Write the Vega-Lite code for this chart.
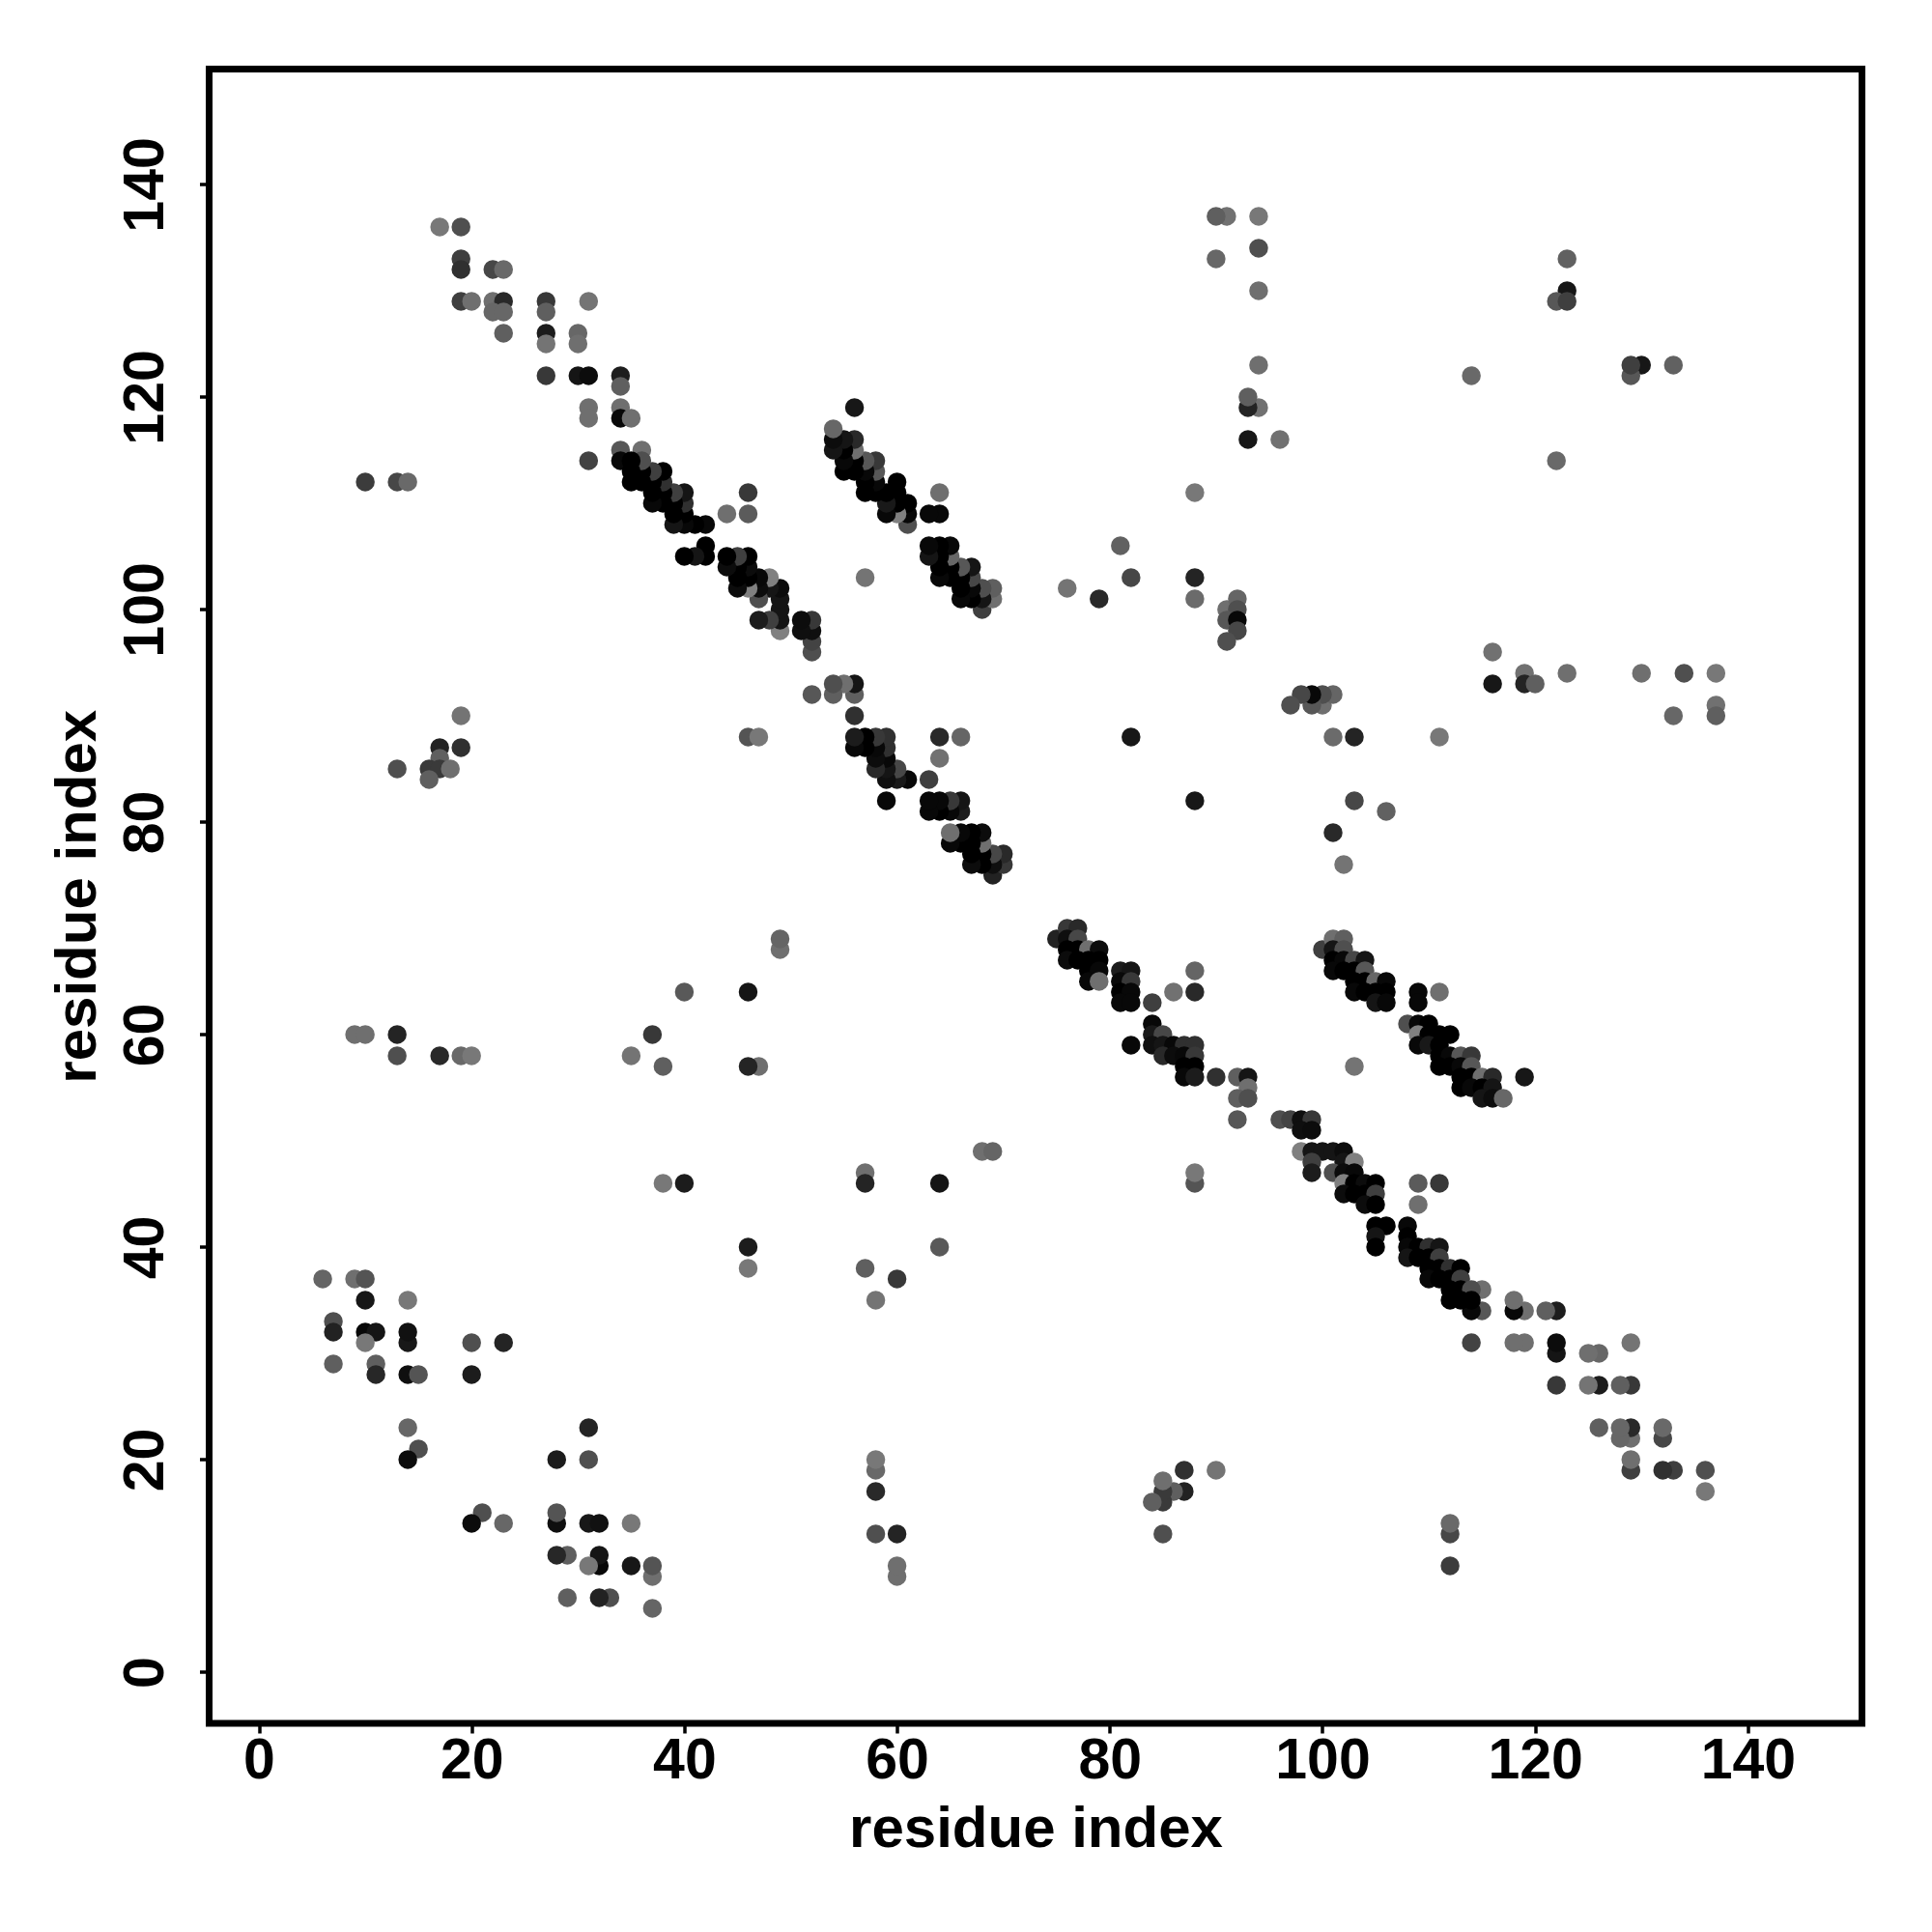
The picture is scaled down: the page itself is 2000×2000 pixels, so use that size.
{"$schema":"https://vega.github.io/schema/vega-lite/v6.json","width":1711,"height":1712.5,"autosize":{"type":"none"},"padding":{"left":216.5,"top":71.5,"right":72,"bottom":216},"background":"white","config":{"view":{"stroke":"#000000","strokeWidth":7,"fill":"white"},"axis":{"grid":false,"domain":false,"tickColor":"#000000","tickWidth":3.5,"tickSize":10,"labelFont":"Liberation Sans","labelFontWeight":"bold","labelFontSize":59,"labelColor":"#000000","titleFont":"Liberation Sans","titleFontWeight":"bold","titleFontSize":60,"titleColor":"#000000"}},"data":{"values":[
{"x":37,"y":6,"d":102},{"x":37,"y":9,"d":112},{"x":37,"y":10,"d":85},{"x":35,"y":10,"d":18},{"x":35,"y":14,"d":120},{"x":33,"y":7,"d":80},{"x":32,"y":7,"d":32},{"x":32,"y":10,"d":5},{"x":32,"y":11,"d":16},{"x":31,"y":10,"d":120},{"x":31,"y":14,"d":20},{"x":32,"y":14,"d":12},{"x":31,"y":20,"d":80},{"x":31,"y":23,"d":34},{"x":29,"y":7,"d":96},{"x":29,"y":11,"d":96},{"x":28,"y":11,"d":37},{"x":28,"y":14,"d":10},{"x":28,"y":15,"d":85},{"x":28,"y":20,"d":24},{"x":23,"y":14,"d":104},{"x":21,"y":15,"d":80},{"x":20,"y":14,"d":8},
{"x":46,"y":40,"d":24},{"x":46,"y":38,"d":120},{"x":68,"y":49,"d":112},{"x":69,"y":49,"d":102},{"x":57,"y":47,"d":112},{"x":57,"y":46,"d":34},{"x":64,"y":46,"d":16},{"x":64,"y":40,"d":90},{"x":57,"y":38,"d":96},{"x":60,"y":37,"d":56},{"x":58,"y":35,"d":117},
{"x":90,"y":19,"d":117},{"x":87,"y":17,"d":32},{"x":87,"y":19,"d":48},{"x":86,"y":17,"d":96},{"x":85,"y":16,"d":58},{"x":85,"y":17,"d":58},{"x":85,"y":13,"d":80},{"x":85,"y":18,"d":112},{"x":84,"y":16,"d":96},{"x":88,"y":46,"d":85},{"x":88,"y":47,"d":120},{"x":60,"y":9,"d":112},{"x":60,"y":10,"d":112},{"x":60,"y":13,"d":34},{"x":58,"y":13,"d":80},{"x":58,"y":17,"d":40},{"x":58,"y":19,"d":106},{"x":58,"y":20,"d":120},{"x":112,"y":10,"d":60},{"x":112,"y":13,"d":72},{"x":112,"y":14,"d":106},
{"x":136,"y":17,"d":120},{"x":136,"y":19,"d":80},{"x":133,"y":19,"d":64},{"x":132,"y":19,"d":48},{"x":132,"y":22,"d":72},{"x":132,"y":23,"d":106},{"x":129,"y":19,"d":64},{"x":129,"y":20,"d":112},{"x":129,"y":22,"d":112},{"x":129,"y":23,"d":40},{"x":128,"y":22,"d":104},{"x":128,"y":23,"d":104},{"x":126,"y":23,"d":96},{"x":129,"y":27,"d":56},{"x":128,"y":27,"d":96},{"x":126,"y":27,"d":24},{"x":125,"y":27,"d":117},{"x":126,"y":30,"d":104},{"x":125,"y":30,"d":112},{"x":129,"y":31,"d":117},{"x":122,"y":27,"d":56},{"x":122,"y":30,"d":16},{"x":122,"y":31,"d":8},{"x":122,"y":34,"d":26},{"x":121,"y":34,"d":96},{"x":119,"y":31,"d":112},{"x":118,"y":31,"d":112},{"x":119,"y":34,"d":112},{"x":118,"y":34,"d":5},{"x":118,"y":35,"d":112},{"x":115,"y":34,"d":88},{"x":115,"y":36,"d":112},{"x":114,"y":31,"d":68},{"x":114,"y":34,"d":5},
{"x":96,"y":52,"d":80},{"x":97,"y":52,"d":68},{"x":98,"y":52,"d":10},{"x":99,"y":52,"d":56},{"x":98,"y":51,"d":10},{"x":99,"y":51,"d":8},{"x":98,"y":49,"d":128},{"x":99,"y":49,"d":16},{"x":100,"y":49,"d":16},{"x":101,"y":49,"d":16},{"x":102,"y":49,"d":8},{"x":99,"y":48,"d":64},{"x":102,"y":48,"d":16},{"x":103,"y":48,"d":128},{"x":99,"y":47,"d":24},{"x":101,"y":47,"d":80},{"x":102,"y":47,"d":8},{"x":103,"y":47,"d":5},{"x":102,"y":46,"d":128},{"x":103,"y":46,"d":0},{"x":104,"y":46,"d":8},{"x":105,"y":46,"d":0},{"x":102,"y":45,"d":8},{"x":103,"y":45,"d":0},{"x":104,"y":45,"d":0},{"x":105,"y":45,"d":64},{"x":104,"y":44,"d":8},{"x":105,"y":44,"d":0},{"x":105,"y":42,"d":0},{"x":106,"y":42,"d":0},{"x":108,"y":42,"d":5},{"x":105,"y":41,"d":16},{"x":108,"y":41,"d":0},{"x":105,"y":40,"d":0},{"x":108,"y":40,"d":5},{"x":109,"y":40,"d":0},{"x":110,"y":40,"d":48},{"x":111,"y":40,"d":16},{"x":108,"y":39,"d":16},{"x":109,"y":39,"d":0},{"x":110,"y":39,"d":0},{"x":111,"y":39,"d":64},{"x":110,"y":38,"d":0},{"x":111,"y":38,"d":0},{"x":112,"y":38,"d":48},{"x":113,"y":38,"d":0},{"x":110,"y":37,"d":5},{"x":111,"y":37,"d":0},{"x":112,"y":37,"d":0},{"x":113,"y":37,"d":64},{"x":112,"y":36,"d":0},{"x":113,"y":36,"d":0},{"x":114,"y":36,"d":80},{"x":112,"y":35,"d":0},{"x":113,"y":35,"d":0},{"x":114,"y":35,"d":0},
{"x":75,"y":69,"d":32},{"x":76,"y":70,"d":56},{"x":77,"y":70,"d":40},{"x":76,"y":69,"d":10},{"x":77,"y":69,"d":72},{"x":76,"y":68,"d":0},{"x":77,"y":68,"d":0},{"x":78,"y":68,"d":112},{"x":79,"y":68,"d":8},{"x":76,"y":67,"d":8},{"x":77,"y":67,"d":0},{"x":78,"y":67,"d":0},{"x":79,"y":67,"d":0},{"x":78,"y":66,"d":0},{"x":79,"y":66,"d":5},{"x":78,"y":65,"d":5},{"x":79,"y":65,"d":112},{"x":81,"y":66,"d":24},{"x":82,"y":66,"d":16},{"x":81,"y":65,"d":5},{"x":82,"y":65,"d":56},{"x":81,"y":64,"d":0},{"x":82,"y":64,"d":5},{"x":81,"y":63,"d":5},{"x":82,"y":63,"d":5},{"x":84,"y":63,"d":64},{"x":88,"y":66,"d":102},{"x":86,"y":64,"d":114},{"x":88,"y":64,"d":40},{"x":84,"y":61,"d":5},{"x":84,"y":60,"d":21},{"x":85,"y":60,"d":72},{"x":82,"y":59,"d":5},{"x":84,"y":59,"d":10},{"x":85,"y":59,"d":16},{"x":86,"y":59,"d":5},{"x":87,"y":59,"d":48},{"x":88,"y":59,"d":48},{"x":85,"y":58,"d":40},{"x":86,"y":58,"d":8},{"x":87,"y":58,"d":5},{"x":88,"y":58,"d":56},{"x":87,"y":57,"d":0},{"x":88,"y":57,"d":0},{"x":87,"y":56,"d":5},{"x":88,"y":56,"d":24},{"x":90,"y":56,"d":48},{"x":92,"y":56,"d":96},{"x":93,"y":56,"d":16},{"x":93,"y":55,"d":112},{"x":92,"y":54,"d":96},{"x":93,"y":54,"d":80},{"x":92,"y":52,"d":88},
{"x":100,"y":68,"d":64},{"x":101,"y":69,"d":112},{"x":102,"y":69,"d":96},{"x":101,"y":68,"d":16},{"x":102,"y":68,"d":80},{"x":101,"y":67,"d":0},{"x":102,"y":67,"d":5},{"x":103,"y":67,"d":72},{"x":104,"y":67,"d":16},{"x":101,"y":66,"d":5},{"x":102,"y":66,"d":0},{"x":103,"y":66,"d":0},{"x":104,"y":66,"d":88},{"x":103,"y":65,"d":0},{"x":104,"y":65,"d":0},{"x":105,"y":65,"d":104},{"x":106,"y":65,"d":5},{"x":103,"y":64,"d":5},{"x":104,"y":64,"d":0},{"x":105,"y":64,"d":0},{"x":106,"y":64,"d":0},{"x":105,"y":63,"d":16},{"x":106,"y":63,"d":5},{"x":109,"y":64,"d":5},{"x":109,"y":63,"d":5},{"x":111,"y":64,"d":112},{"x":108,"y":61,"d":80},{"x":109,"y":61,"d":5},{"x":110,"y":61,"d":0},{"x":109,"y":60,"d":128},{"x":110,"y":60,"d":0},{"x":111,"y":60,"d":0},{"x":112,"y":60,"d":0},{"x":109,"y":59,"d":5},{"x":110,"y":59,"d":21},{"x":111,"y":59,"d":0},{"x":111,"y":58,"d":0},{"x":112,"y":58,"d":5},{"x":113,"y":58,"d":88},{"x":114,"y":58,"d":56},{"x":111,"y":57,"d":0},{"x":112,"y":57,"d":0},{"x":113,"y":57,"d":5},{"x":114,"y":57,"d":88},{"x":113,"y":56,"d":0},{"x":114,"y":56,"d":0},{"x":115,"y":56,"d":112},{"x":116,"y":56,"d":40},{"x":119,"y":56,"d":18},{"x":113,"y":55,"d":0},{"x":114,"y":55,"d":5},{"x":115,"y":55,"d":0},{"x":116,"y":55,"d":16},{"x":115,"y":54,"d":16},{"x":116,"y":54,"d":8},{"x":117,"y":54,"d":104},{"x":103,"y":57,"d":117},
{"x":111,"y":88,"d":120},{"x":106,"y":81,"d":98},{"x":103,"y":82,"d":72},{"x":103,"y":88,"d":34},{"x":102,"y":76,"d":117},{"x":101,"y":79,"d":40},{"x":101,"y":88,"d":108},{"x":100,"y":91,"d":112},{"x":101,"y":92,"d":102},{"x":100,"y":92,"d":80},{"x":99,"y":91,"d":88},{"x":99,"y":92,"d":5},{"x":98,"y":92,"d":72},{"x":97,"y":91,"d":80},{"x":116,"y":96,"d":114},{"x":116,"y":93,"d":18},{"x":119,"y":94,"d":114},{"x":119,"y":93,"d":34},{"x":120,"y":93,"d":96},{"x":123,"y":94,"d":112},{"x":130,"y":94,"d":112},{"x":134,"y":94,"d":80},{"x":137,"y":94,"d":120},{"x":137,"y":91,"d":114},{"x":137,"y":90,"d":96},{"x":133,"y":90,"d":104},{"x":88,"y":82,"d":18},{"x":133,"y":123,"d":98},{"x":130,"y":123,"d":18},{"x":129,"y":122,"d":88},{"x":129,"y":123,"d":64},{"x":122,"y":114,"d":106},{"x":111,"y":46,"d":56},{"x":109,"y":46,"d":92},{"x":109,"y":44,"d":112},
{"y":37,"x":6,"d":102},{"y":37,"x":9,"d":112},{"y":37,"x":10,"d":85},{"y":35,"x":10,"d":18},{"y":35,"x":14,"d":120},{"y":33,"x":7,"d":80},{"y":32,"x":7,"d":32},{"y":32,"x":10,"d":5},{"y":32,"x":11,"d":16},{"y":31,"x":10,"d":120},{"y":31,"x":14,"d":20},{"y":32,"x":14,"d":12},{"y":31,"x":20,"d":80},{"y":31,"x":23,"d":34},{"y":29,"x":7,"d":96},{"y":29,"x":11,"d":96},{"y":28,"x":11,"d":37},{"y":28,"x":14,"d":10},{"y":28,"x":15,"d":85},{"y":28,"x":20,"d":24},{"y":23,"x":14,"d":104},{"y":21,"x":15,"d":80},{"y":20,"x":14,"d":8},
{"y":46,"x":40,"d":24},{"y":46,"x":38,"d":120},{"y":68,"x":49,"d":112},{"y":69,"x":49,"d":102},{"y":57,"x":47,"d":112},{"y":57,"x":46,"d":34},{"y":64,"x":46,"d":16},{"y":64,"x":40,"d":90},{"y":57,"x":38,"d":96},{"y":60,"x":37,"d":56},{"y":58,"x":35,"d":117},
{"y":90,"x":19,"d":117},{"y":87,"x":17,"d":32},{"y":87,"x":19,"d":48},{"y":86,"x":17,"d":96},{"y":85,"x":16,"d":58},{"y":85,"x":17,"d":58},{"y":85,"x":13,"d":80},{"y":85,"x":18,"d":112},{"y":84,"x":16,"d":96},{"y":88,"x":46,"d":85},{"y":88,"x":47,"d":120},{"y":60,"x":9,"d":112},{"y":60,"x":10,"d":112},{"y":60,"x":13,"d":34},{"y":58,"x":13,"d":80},{"y":58,"x":17,"d":40},{"y":58,"x":19,"d":106},{"y":58,"x":20,"d":120},{"y":112,"x":10,"d":60},{"y":112,"x":13,"d":72},{"y":112,"x":14,"d":106},
{"y":136,"x":17,"d":120},{"y":136,"x":19,"d":80},{"y":133,"x":19,"d":64},{"y":132,"x":19,"d":48},{"y":132,"x":22,"d":72},{"y":132,"x":23,"d":106},{"y":129,"x":19,"d":64},{"y":129,"x":20,"d":112},{"y":129,"x":22,"d":112},{"y":129,"x":23,"d":40},{"y":128,"x":22,"d":104},{"y":128,"x":23,"d":104},{"y":126,"x":23,"d":96},{"y":129,"x":27,"d":56},{"y":128,"x":27,"d":96},{"y":126,"x":27,"d":24},{"y":125,"x":27,"d":117},{"y":126,"x":30,"d":104},{"y":125,"x":30,"d":112},{"y":129,"x":31,"d":117},{"y":122,"x":27,"d":56},{"y":122,"x":30,"d":16},{"y":122,"x":31,"d":8},{"y":122,"x":34,"d":26},{"y":121,"x":34,"d":96},{"y":119,"x":31,"d":112},{"y":118,"x":31,"d":112},{"y":119,"x":34,"d":112},{"y":118,"x":34,"d":5},{"y":118,"x":35,"d":112},{"y":115,"x":34,"d":88},{"y":115,"x":36,"d":112},{"y":114,"x":31,"d":68},{"y":114,"x":34,"d":5},
{"y":96,"x":52,"d":80},{"y":97,"x":52,"d":68},{"y":98,"x":52,"d":10},{"y":99,"x":52,"d":56},{"y":98,"x":51,"d":10},{"y":99,"x":51,"d":8},{"y":98,"x":49,"d":128},{"y":99,"x":49,"d":16},{"y":100,"x":49,"d":16},{"y":101,"x":49,"d":16},{"y":102,"x":49,"d":8},{"y":99,"x":48,"d":64},{"y":102,"x":48,"d":16},{"y":103,"x":48,"d":128},{"y":99,"x":47,"d":24},{"y":101,"x":47,"d":80},{"y":102,"x":47,"d":8},{"y":103,"x":47,"d":5},{"y":102,"x":46,"d":128},{"y":103,"x":46,"d":0},{"y":104,"x":46,"d":8},{"y":105,"x":46,"d":0},{"y":102,"x":45,"d":8},{"y":103,"x":45,"d":0},{"y":104,"x":45,"d":0},{"y":105,"x":45,"d":64},{"y":104,"x":44,"d":8},{"y":105,"x":44,"d":0},{"y":105,"x":42,"d":0},{"y":106,"x":42,"d":0},{"y":108,"x":42,"d":5},{"y":105,"x":41,"d":16},{"y":108,"x":41,"d":0},{"y":105,"x":40,"d":0},{"y":108,"x":40,"d":5},{"y":109,"x":40,"d":0},{"y":110,"x":40,"d":48},{"y":111,"x":40,"d":16},{"y":108,"x":39,"d":16},{"y":109,"x":39,"d":0},{"y":110,"x":39,"d":0},{"y":111,"x":39,"d":64},{"y":110,"x":38,"d":0},{"y":111,"x":38,"d":0},{"y":112,"x":38,"d":48},{"y":113,"x":38,"d":0},{"y":110,"x":37,"d":5},{"y":111,"x":37,"d":0},{"y":112,"x":37,"d":0},{"y":113,"x":37,"d":64},{"y":112,"x":36,"d":0},{"y":113,"x":36,"d":0},{"y":114,"x":36,"d":80},{"y":112,"x":35,"d":0},{"y":113,"x":35,"d":0},{"y":114,"x":35,"d":0},
{"y":75,"x":69,"d":32},{"y":76,"x":70,"d":56},{"y":77,"x":70,"d":40},{"y":76,"x":69,"d":10},{"y":77,"x":69,"d":72},{"y":76,"x":68,"d":0},{"y":77,"x":68,"d":0},{"y":78,"x":68,"d":112},{"y":79,"x":68,"d":8},{"y":76,"x":67,"d":8},{"y":77,"x":67,"d":0},{"y":78,"x":67,"d":0},{"y":79,"x":67,"d":0},{"y":78,"x":66,"d":0},{"y":79,"x":66,"d":5},{"y":78,"x":65,"d":5},{"y":79,"x":65,"d":112},{"y":81,"x":66,"d":24},{"y":82,"x":66,"d":16},{"y":81,"x":65,"d":5},{"y":82,"x":65,"d":56},{"y":81,"x":64,"d":0},{"y":82,"x":64,"d":5},{"y":81,"x":63,"d":5},{"y":82,"x":63,"d":5},{"y":84,"x":63,"d":64},{"y":88,"x":66,"d":102},{"y":86,"x":64,"d":114},{"y":88,"x":64,"d":40},{"y":84,"x":61,"d":5},{"y":84,"x":60,"d":21},{"y":85,"x":60,"d":72},{"y":82,"x":59,"d":5},{"y":84,"x":59,"d":10},{"y":85,"x":59,"d":16},{"y":86,"x":59,"d":5},{"y":87,"x":59,"d":48},{"y":88,"x":59,"d":48},{"y":85,"x":58,"d":40},{"y":86,"x":58,"d":8},{"y":87,"x":58,"d":5},{"y":88,"x":58,"d":56},{"y":87,"x":57,"d":0},{"y":88,"x":57,"d":0},{"y":87,"x":56,"d":5},{"y":88,"x":56,"d":24},{"y":90,"x":56,"d":48},{"y":92,"x":56,"d":96},{"y":93,"x":56,"d":16},{"y":93,"x":55,"d":112},{"y":92,"x":54,"d":96},{"y":93,"x":54,"d":80},{"y":92,"x":52,"d":88},
{"y":100,"x":68,"d":64},{"y":101,"x":69,"d":112},{"y":102,"x":69,"d":96},{"y":101,"x":68,"d":16},{"y":102,"x":68,"d":80},{"y":101,"x":67,"d":0},{"y":102,"x":67,"d":5},{"y":103,"x":67,"d":72},{"y":104,"x":67,"d":16},{"y":101,"x":66,"d":5},{"y":102,"x":66,"d":0},{"y":103,"x":66,"d":0},{"y":104,"x":66,"d":88},{"y":103,"x":65,"d":0},{"y":104,"x":65,"d":0},{"y":105,"x":65,"d":104},{"y":106,"x":65,"d":5},{"y":103,"x":64,"d":5},{"y":104,"x":64,"d":0},{"y":105,"x":64,"d":0},{"y":106,"x":64,"d":0},{"y":105,"x":63,"d":16},{"y":106,"x":63,"d":5},{"y":109,"x":64,"d":5},{"y":109,"x":63,"d":5},{"y":111,"x":64,"d":112},{"y":108,"x":61,"d":80},{"y":109,"x":61,"d":5},{"y":110,"x":61,"d":0},{"y":109,"x":60,"d":128},{"y":110,"x":60,"d":0},{"y":111,"x":60,"d":0},{"y":112,"x":60,"d":0},{"y":109,"x":59,"d":5},{"y":110,"x":59,"d":21},{"y":111,"x":59,"d":0},{"y":111,"x":58,"d":0},{"y":112,"x":58,"d":5},{"y":113,"x":58,"d":88},{"y":114,"x":58,"d":56},{"y":111,"x":57,"d":0},{"y":112,"x":57,"d":0},{"y":113,"x":57,"d":5},{"y":114,"x":57,"d":88},{"y":113,"x":56,"d":0},{"y":114,"x":56,"d":0},{"y":115,"x":56,"d":112},{"y":116,"x":56,"d":40},{"y":119,"x":56,"d":18},{"y":113,"x":55,"d":0},{"y":114,"x":55,"d":5},{"y":115,"x":55,"d":0},{"y":116,"x":55,"d":16},{"y":115,"x":54,"d":16},{"y":116,"x":54,"d":8},{"y":117,"x":54,"d":104},{"y":103,"x":57,"d":117},
{"y":111,"x":88,"d":120},{"y":106,"x":81,"d":98},{"y":103,"x":82,"d":72},{"y":103,"x":88,"d":34},{"y":102,"x":76,"d":117},{"y":101,"x":79,"d":40},{"y":101,"x":88,"d":108},{"y":100,"x":91,"d":112},{"y":101,"x":92,"d":102},{"y":100,"x":92,"d":80},{"y":99,"x":91,"d":88},{"y":99,"x":92,"d":5},{"y":98,"x":92,"d":72},{"y":97,"x":91,"d":80},{"y":116,"x":96,"d":114},{"y":116,"x":93,"d":18},{"y":119,"x":94,"d":114},{"y":119,"x":93,"d":34},{"y":120,"x":93,"d":96},{"y":123,"x":94,"d":112},{"y":130,"x":94,"d":112},{"y":134,"x":94,"d":80},{"y":137,"x":94,"d":120},{"y":137,"x":91,"d":114},{"y":137,"x":90,"d":96},{"y":133,"x":90,"d":104},{"y":88,"x":82,"d":18},{"y":133,"x":123,"d":98},{"y":130,"x":123,"d":18},{"y":129,"x":122,"d":88},{"y":129,"x":123,"d":64},{"y":122,"x":114,"d":106},{"y":111,"x":46,"d":56},{"y":109,"x":46,"d":92},{"y":109,"x":44,"d":112}
]},"mark":{"type":"point","filled":true,"opacity":1,"shape":"circle","size":380,"stroke":null},"encoding":{"x":{"field":"x","type":"quantitative","scale":{"domain":[-4.68,150.73],"nice":false,"zero":false},"axis":{"values":[0,20,40,60,80,100,120,140],"title":"residue index","labelPadding":-0.5,"titlePadding":11.5}},"y":{"field":"y","type":"quantitative","scale":{"domain":[-4.82,150.86],"nice":false,"zero":false},"axis":{"values":[0,20,40,60,80,100,120,140],"title":"residue index","labelAngle":-90,"labelAlign":"center","labelBaseline":"bottom","labelPadding":26.5,"titlePadding":10}},"color":{"field":"d","type":"quantitative","scale":{"domain":[0,128],"range":["#000000","#808080"]},"legend":null},"order":[{"field":"x","type":"quantitative"},{"field":"y","type":"quantitative"}]}}
